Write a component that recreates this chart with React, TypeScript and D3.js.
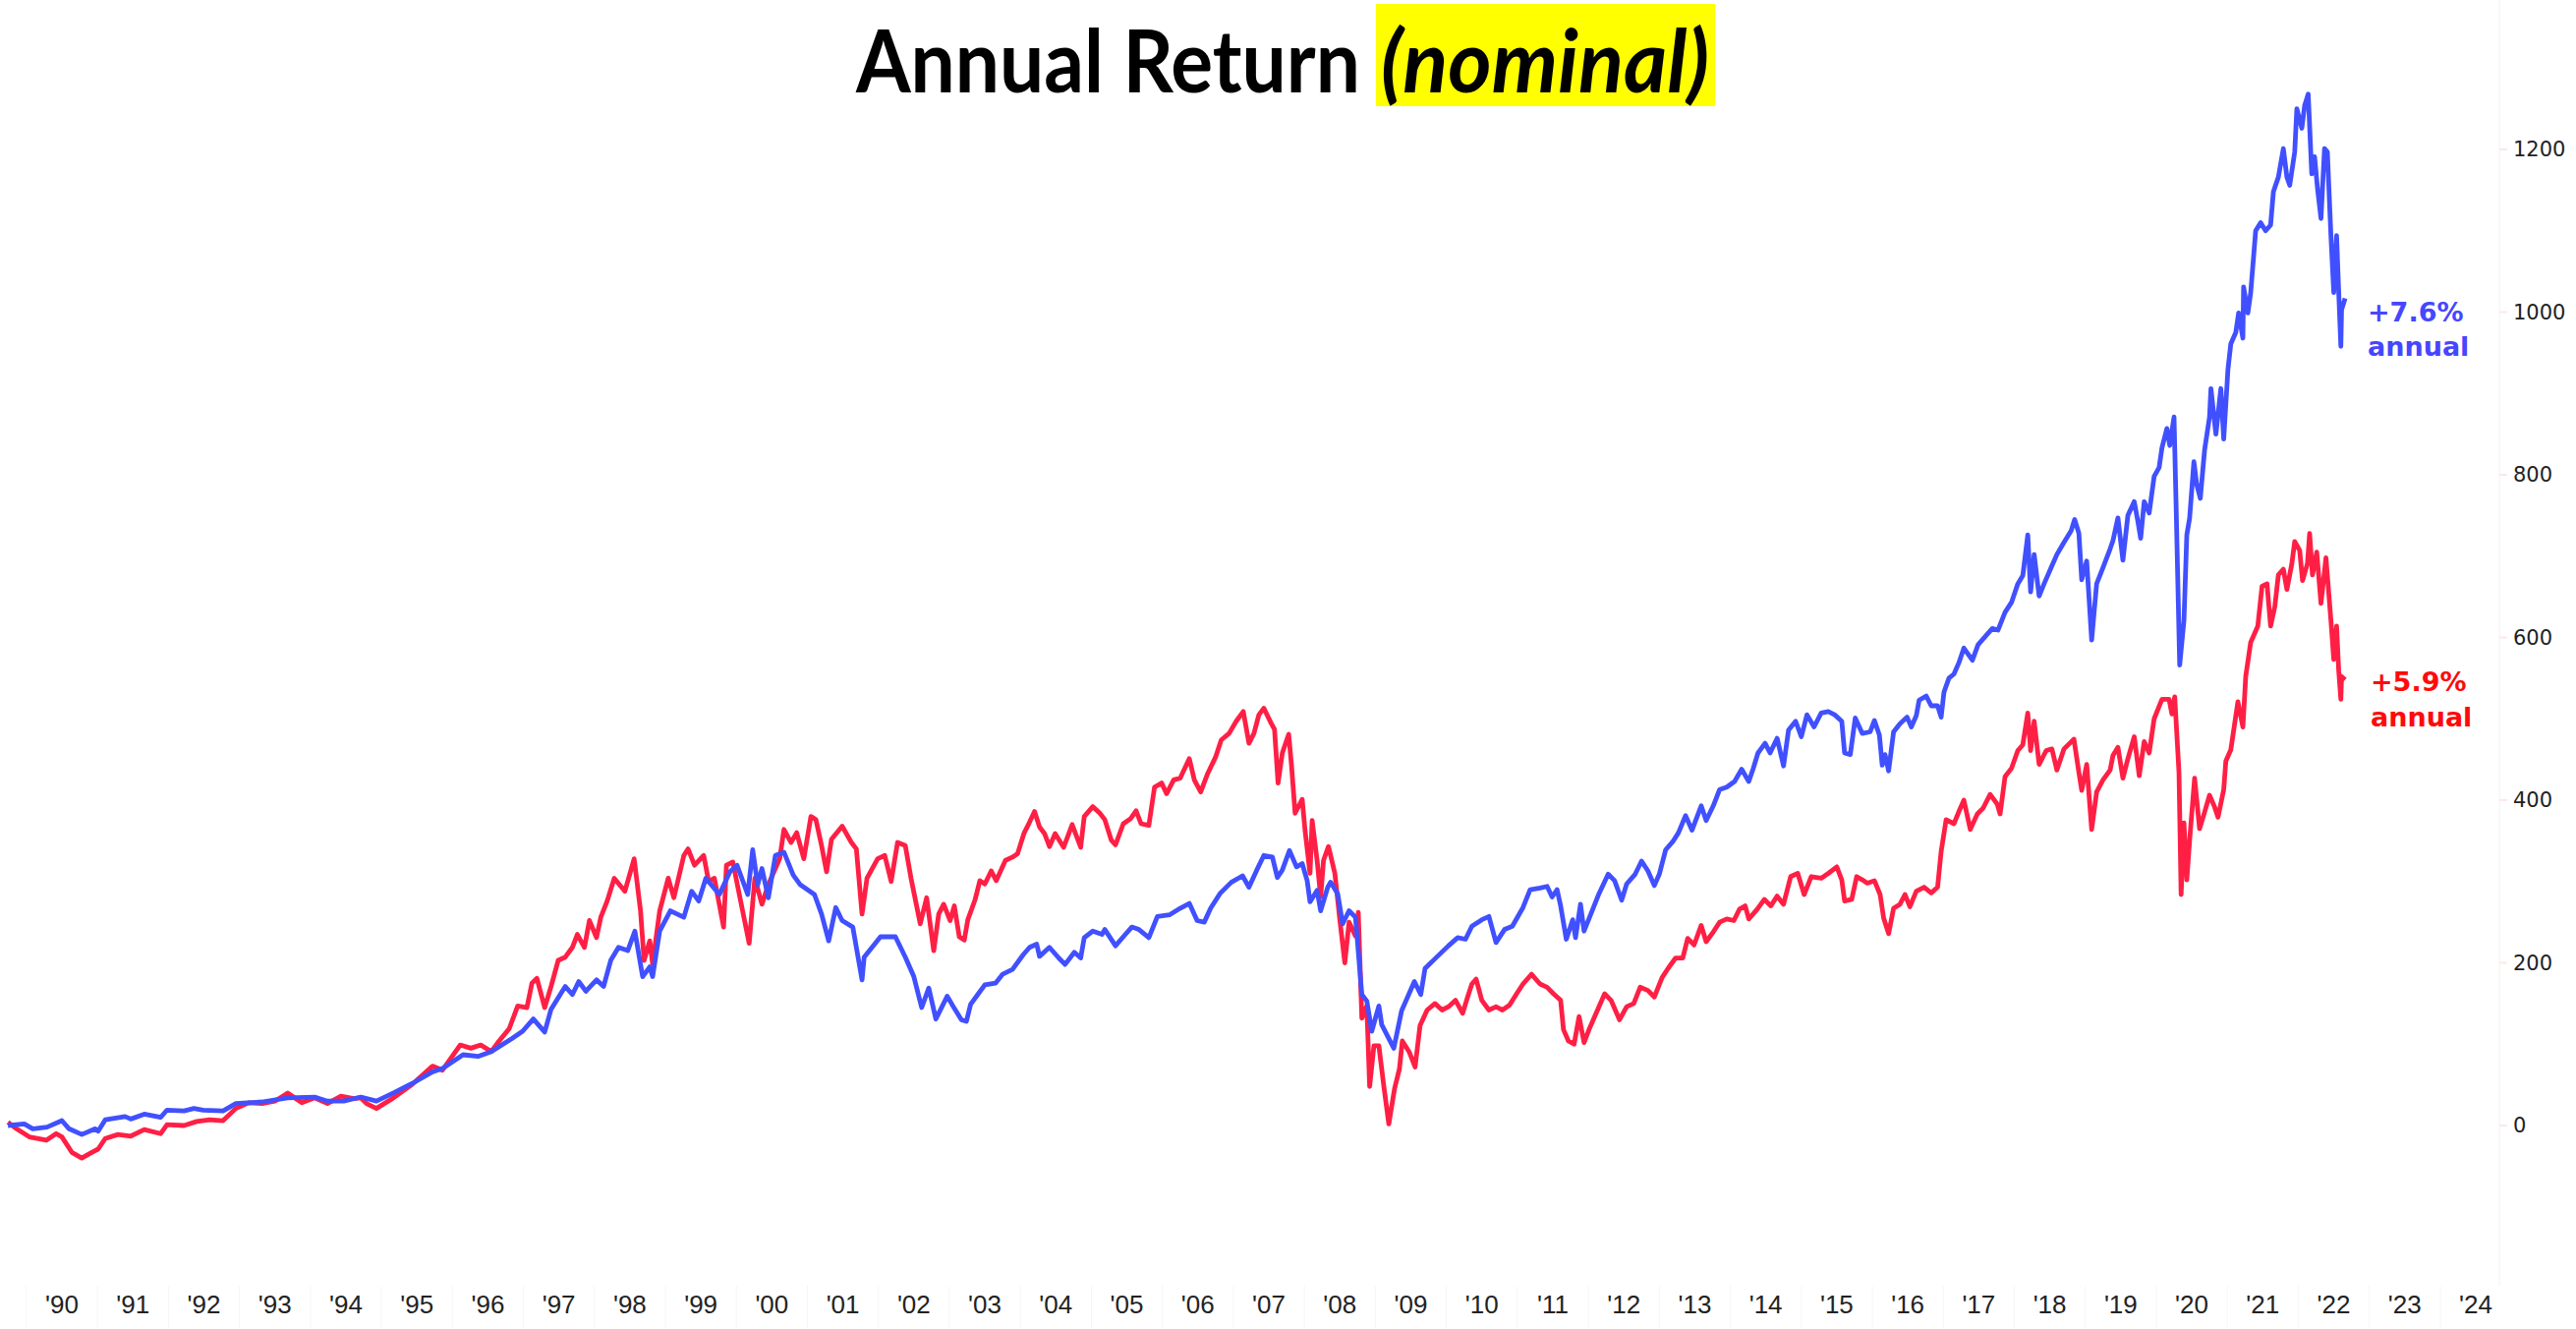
import React from 'react';
import * as d3 from 'd3';

// Cumulative return (%), blue series: [year, value]
const blueSeries: [number, number][] = [
  [1989.74, 0], [1989.97, 2], [1990.09, -4], [1990.29, -2], [1990.5, 6], [1990.6, -4], [1990.78, -11],
  [1990.97, -4], [1991.01, -7], [1991.11, 7], [1991.39, 11], [1991.47, 8], [1991.66, 14], [1991.89, 10],
  [1991.98, 19], [1992.22, 18], [1992.36, 21], [1992.49, 19], [1992.77, 18], [1992.95, 27], [1993.32, 29],
  [1993.68, 34], [1994.06, 35], [1994.24, 30], [1994.47, 30], [1994.71, 35], [1994.93, 30], [1995.17, 40],
  [1995.44, 52], [1995.72, 66], [1995.86, 70], [1996.15, 87], [1996.36, 85], [1996.55, 91], [1996.84, 107],
  [1996.99, 116], [1997.14, 131], [1997.3, 115], [1997.39, 143], [1997.59, 171], [1997.69, 161], [1997.78, 177],
  [1997.88, 165], [1998.03, 179], [1998.13, 171], [1998.23, 203], [1998.34, 219], [1998.47, 215], [1998.57, 239],
  [1998.68, 183], [1998.78, 195], [1998.82, 183], [1998.92, 239], [1999.07, 264], [1999.26, 256], [1999.37, 288],
  [1999.47, 276], [1999.57, 304], [1999.76, 284], [1999.91, 312], [2000.01, 320], [2000.16, 284], [2000.23, 339],
  [2000.3, 296], [2000.36, 316], [2000.45, 280], [2000.55, 332], [2000.67, 336], [2000.8, 308], [2000.9, 296],
  [2001.1, 284], [2001.2, 260], [2001.3, 227], [2001.4, 268], [2001.49, 252], [2001.64, 244], [2001.77, 179],
  [2001.8, 207], [2002.03, 232], [2002.24, 232], [2002.38, 207], [2002.5, 183], [2002.61, 145], [2002.71, 169],
  [2002.81, 131], [2002.97, 159], [2003.07, 144], [2003.17, 130], [2003.24, 128], [2003.3, 149], [2003.4, 161],
  [2003.5, 173], [2003.65, 175], [2003.75, 186], [2003.89, 192], [2004.04, 210], [2004.13, 219], [2004.23, 223],
  [2004.27, 208], [2004.41, 219], [2004.54, 206], [2004.63, 198], [2004.76, 213], [2004.85, 206], [2004.9, 231],
  [2005.02, 239], [2005.15, 235], [2005.19, 241], [2005.34, 221], [2005.48, 235], [2005.57, 244], [2005.67, 241],
  [2005.81, 231], [2005.93, 257], [2006.1, 259], [2006.25, 267], [2006.38, 273], [2006.49, 252], [2006.59, 250],
  [2006.68, 267], [2006.81, 285], [2006.97, 299], [2007.13, 307], [2007.22, 293], [2007.33, 314], [2007.43, 332],
  [2007.55, 330], [2007.62, 305], [2007.69, 314], [2007.79, 338], [2007.89, 318], [2007.97, 322], [2008.04, 301],
  [2008.08, 275], [2008.18, 289], [2008.23, 264], [2008.33, 293], [2008.37, 299], [2008.47, 285], [2008.54, 248],
  [2008.63, 264], [2008.72, 256], [2008.81, 161], [2008.88, 153], [2008.95, 116], [2009.05, 147], [2009.09, 124],
  [2009.26, 95], [2009.37, 141], [2009.47, 161], [2009.55, 177], [2009.64, 161], [2009.7, 193], [2009.84, 205],
  [2010.03, 221], [2010.16, 231], [2010.27, 229], [2010.36, 245], [2010.5, 253], [2010.6, 257], [2010.7, 225],
  [2010.82, 241], [2010.93, 245], [2011.08, 268], [2011.18, 290], [2011.32, 292], [2011.42, 294], [2011.49, 281],
  [2011.56, 290], [2011.61, 270], [2011.69, 229], [2011.78, 253], [2011.82, 231], [2011.89, 272], [2011.94, 239],
  [2012.04, 261], [2012.15, 285], [2012.28, 309], [2012.37, 301], [2012.47, 277], [2012.54, 297], [2012.66, 309],
  [2012.75, 325], [2012.84, 313], [2012.93, 295], [2013.0, 309], [2013.09, 339], [2013.19, 349], [2013.27, 360],
  [2013.37, 381], [2013.46, 363], [2013.59, 393], [2013.66, 375], [2013.76, 393], [2013.85, 413], [2013.95, 416],
  [2014.06, 423], [2014.16, 438], [2014.26, 423], [2014.32, 438], [2014.39, 458], [2014.49, 470], [2014.56, 458],
  [2014.66, 476], [2014.75, 442], [2014.82, 486], [2014.92, 497], [2015.0, 478], [2015.08, 505], [2015.18, 490],
  [2015.28, 507], [2015.38, 509], [2015.47, 505], [2015.57, 497], [2015.61, 458], [2015.69, 456], [2015.76, 501],
  [2015.86, 482], [2015.97, 484], [2016.03, 498], [2016.1, 480], [2016.14, 443], [2016.18, 456], [2016.23, 436],
  [2016.3, 484], [2016.39, 494], [2016.49, 502], [2016.55, 490], [2016.62, 504], [2016.66, 523], [2016.76, 528],
  [2016.83, 516], [2016.92, 516], [2016.97, 502], [2017.01, 533], [2017.08, 550], [2017.15, 555], [2017.22, 569],
  [2017.29, 587], [2017.41, 572], [2017.49, 591], [2017.59, 601], [2017.69, 611], [2017.77, 609], [2017.87, 631],
  [2017.96, 643], [2018.05, 666], [2018.12, 676], [2018.19, 726], [2018.23, 656], [2018.28, 702], [2018.35, 651],
  [2018.42, 666], [2018.52, 686], [2018.6, 702], [2018.7, 717], [2018.8, 731], [2018.85, 745], [2018.91, 728],
  [2018.95, 671], [2019.02, 694], [2019.09, 597], [2019.16, 666], [2019.25, 686], [2019.35, 709], [2019.39, 719],
  [2019.46, 747], [2019.53, 695], [2019.6, 750], [2019.69, 767], [2019.74, 743], [2019.78, 722], [2019.83, 767],
  [2019.9, 753], [2019.97, 798], [2020.04, 809], [2020.08, 833], [2020.15, 857], [2020.19, 836], [2020.25, 871],
  [2020.28, 760], [2020.33, 566], [2020.39, 621], [2020.43, 726], [2020.47, 747], [2020.53, 816], [2020.57, 788],
  [2020.62, 771], [2020.68, 830], [2020.75, 871], [2020.77, 906], [2020.84, 850], [2020.91, 906], [2020.95, 844],
  [2021.01, 930], [2021.05, 961], [2021.12, 975], [2021.16, 999], [2021.22, 968], [2021.23, 1031], [2021.29, 999],
  [2021.33, 1024], [2021.4, 1100], [2021.47, 1110], [2021.54, 1100], [2021.61, 1107], [2021.65, 1148], [2021.72, 1166],
  [2021.79, 1201], [2021.84, 1166], [2021.88, 1156], [2021.95, 1197], [2021.98, 1250], [2022.05, 1226], [2022.09, 1254],
  [2022.14, 1268], [2022.19, 1170], [2022.23, 1191], [2022.27, 1153], [2022.32, 1115], [2022.37, 1201], [2022.41, 1197],
  [2022.46, 1094], [2022.5, 1024], [2022.54, 1094], [2022.57, 1024], [2022.6, 958], [2022.61, 1003], [2022.66, 1017],
];

// Cumulative return (%), red series: [year, value]
const redSeries: [number, number][] = [
  [1989.74, 4], [1989.86, -4], [1990.04, -14], [1990.28, -18], [1990.42, -10], [1990.5, -14], [1990.64, -33],
  [1990.78, -40], [1990.92, -33], [1991.01, -29], [1991.11, -16], [1991.29, -11], [1991.47, -13], [1991.66, -5],
  [1991.89, -10], [1991.98, 1], [1992.22, 0], [1992.4, 5], [1992.58, 7], [1992.77, 6], [1992.95, 21], [1993.13, 28],
  [1993.32, 27], [1993.5, 30], [1993.68, 40], [1993.88, 28], [1994.06, 34], [1994.24, 27], [1994.43, 36],
  [1994.61, 33], [1994.71, 34], [1994.79, 27], [1994.93, 21], [1995.17, 34], [1995.44, 51], [1995.72, 73],
  [1995.86, 68], [1996.11, 99], [1996.26, 95], [1996.4, 99], [1996.55, 91], [1996.65, 103], [1996.8, 119],
  [1996.92, 147], [1997.05, 145], [1997.12, 175], [1997.19, 181], [1997.3, 145], [1997.39, 171], [1997.49, 203],
  [1997.59, 207], [1997.69, 219], [1997.76, 235], [1997.86, 219], [1997.93, 252], [1998.03, 231], [1998.09, 256],
  [1998.18, 276], [1998.28, 304], [1998.43, 288], [1998.56, 328], [1998.65, 264], [1998.7, 203], [1998.78, 227],
  [1998.82, 199], [1998.92, 264], [1999.04, 304], [1999.12, 280], [1999.26, 332], [1999.32, 340], [1999.41, 320],
  [1999.54, 332], [1999.61, 300], [1999.69, 304], [1999.82, 244], [1999.86, 320], [1999.95, 324], [2000.06, 276],
  [2000.18, 224], [2000.26, 304], [2000.36, 272], [2000.45, 296], [2000.61, 328], [2000.67, 364], [2000.77, 348],
  [2000.85, 360], [2000.95, 328], [2001.05, 380], [2001.12, 376], [2001.2, 344], [2001.27, 312], [2001.34, 352],
  [2001.49, 368], [2001.62, 348], [2001.69, 340], [2001.77, 260], [2001.84, 304], [2001.99, 328], [2002.09, 332],
  [2002.18, 300], [2002.27, 348], [2002.38, 344], [2002.46, 304], [2002.59, 248], [2002.68, 280], [2002.78, 215],
  [2002.85, 260], [2002.92, 272], [2003.01, 252], [2003.07, 270], [2003.14, 232], [2003.21, 228], [2003.26, 253],
  [2003.36, 277], [2003.43, 301], [2003.5, 297], [2003.59, 313], [2003.66, 301], [2003.79, 326], [2003.89, 330],
  [2003.96, 334], [2004.05, 359], [2004.13, 373], [2004.2, 386], [2004.27, 367], [2004.34, 359], [2004.41, 343],
  [2004.49, 359], [2004.61, 342], [2004.73, 370], [2004.85, 342], [2004.9, 380], [2005.02, 392], [2005.12, 384],
  [2005.19, 376], [2005.28, 351], [2005.34, 345], [2005.45, 371], [2005.55, 377], [2005.63, 387], [2005.7, 371],
  [2005.81, 369], [2005.89, 416], [2005.99, 421], [2006.06, 408], [2006.16, 425], [2006.25, 427], [2006.38, 451],
  [2006.45, 425], [2006.54, 410], [2006.64, 433], [2006.75, 453], [2006.83, 474], [2006.94, 482], [2007.04, 497],
  [2007.14, 509], [2007.22, 470], [2007.29, 482], [2007.36, 505], [2007.43, 513], [2007.53, 495], [2007.58, 487],
  [2007.63, 421], [2007.69, 458], [2007.78, 481], [2007.82, 442], [2007.87, 384], [2007.97, 401], [2008.01, 363],
  [2008.08, 310], [2008.11, 375], [2008.18, 326], [2008.23, 281], [2008.27, 326], [2008.34, 343], [2008.43, 310],
  [2008.5, 253], [2008.57, 200], [2008.63, 250], [2008.72, 233], [2008.76, 262], [2008.81, 132], [2008.88, 147],
  [2008.92, 48], [2008.98, 98], [2009.05, 98], [2009.12, 48], [2009.19, 2], [2009.27, 45], [2009.34, 70],
  [2009.38, 104], [2009.48, 90], [2009.56, 72], [2009.63, 123], [2009.73, 142], [2009.84, 150], [2009.94, 142],
  [2010.03, 146], [2010.13, 154], [2010.23, 138], [2010.3, 158], [2010.36, 174], [2010.42, 180], [2010.5, 154],
  [2010.6, 142], [2010.7, 146], [2010.79, 142], [2010.89, 148], [2010.99, 162], [2011.08, 174], [2011.2, 186],
  [2011.32, 174], [2011.42, 170], [2011.51, 162], [2011.61, 154], [2011.65, 118], [2011.72, 104], [2011.8, 100],
  [2011.87, 134], [2011.94, 102], [2012.01, 118], [2012.11, 138], [2012.23, 162], [2012.32, 154], [2012.44, 130],
  [2012.54, 146], [2012.64, 150], [2012.73, 170], [2012.84, 166], [2012.93, 158], [2013.04, 182], [2013.13, 194],
  [2013.23, 206], [2013.33, 206], [2013.4, 230], [2013.49, 222], [2013.59, 246], [2013.66, 226], [2013.76, 238],
  [2013.85, 250], [2013.95, 254], [2014.05, 252], [2014.13, 266], [2014.21, 270], [2014.26, 254], [2014.38, 266],
  [2014.48, 278], [2014.57, 270], [2014.66, 282], [2014.75, 272], [2014.85, 306], [2014.95, 310], [2015.04, 284],
  [2015.14, 306], [2015.28, 304], [2015.38, 310], [2015.5, 318], [2015.57, 302], [2015.61, 276], [2015.71, 278],
  [2015.78, 306], [2015.86, 302], [2015.93, 298], [2016.03, 301], [2016.11, 284], [2016.16, 255], [2016.23, 236],
  [2016.3, 267], [2016.39, 272], [2016.46, 284], [2016.53, 269], [2016.62, 288], [2016.73, 293], [2016.83, 286],
  [2016.92, 293], [2016.97, 337], [2017.04, 376], [2017.15, 371], [2017.22, 386], [2017.29, 400], [2017.38, 364],
  [2017.48, 383], [2017.56, 390], [2017.66, 407], [2017.76, 395], [2017.8, 383], [2017.87, 429], [2017.96, 439],
  [2018.05, 461], [2018.12, 468], [2018.19, 507], [2018.23, 461], [2018.28, 497], [2018.35, 444], [2018.45, 461],
  [2018.53, 463], [2018.6, 437], [2018.7, 463], [2018.84, 475], [2018.91, 434], [2018.95, 412], [2019.02, 444],
  [2019.09, 364], [2019.16, 410], [2019.25, 425], [2019.35, 437], [2019.39, 455], [2019.46, 465], [2019.53, 427],
  [2019.6, 451], [2019.69, 478], [2019.76, 430], [2019.83, 472], [2019.9, 458], [2019.97, 500], [2020.08, 524],
  [2020.18, 524], [2020.22, 506], [2020.26, 527], [2020.32, 434], [2020.35, 284], [2020.39, 372], [2020.43, 302],
  [2020.47, 351], [2020.54, 427], [2020.61, 365], [2020.68, 385], [2020.75, 406], [2020.82, 392], [2020.87, 379],
  [2020.95, 413], [2020.98, 448], [2021.05, 462], [2021.15, 521], [2021.22, 490], [2021.26, 552], [2021.33, 594],
  [2021.43, 614], [2021.49, 663], [2021.56, 666], [2021.61, 614], [2021.67, 638], [2021.72, 677], [2021.79, 684],
  [2021.84, 659], [2021.91, 691], [2021.95, 718], [2022.02, 707], [2022.06, 670], [2022.13, 691], [2022.16, 728],
  [2022.2, 677], [2022.26, 705], [2022.32, 642], [2022.39, 698], [2022.46, 621], [2022.5, 573], [2022.54, 614],
  [2022.57, 559], [2022.6, 524], [2022.61, 552], [2022.66, 548],
];

const years = d3.range(1990, 2025);
const valueTicks = [0, 200, 400, 600, 800, 1000, 1200];

const BLUE = '#4150ff';
const RED = '#ff1f45';

export default function App() {
  const width = 2621;
  const height = 1352;

  // Scales: labels sit in the middle of each year band
  const x = d3.scaleLinear().domain([1990.5, 2024.5]).range([63, 2519]);
  const y = d3.scaleLinear().domain([0, 1200]).range([1145, 152]);

  const line = d3
    .line<[number, number]>()
    .x(d => x(d[0]))
    .y(d => y(d[1]));

  const axisX = 2543;

  return (
    <svg
      width={width}
      height={height}
      style={{ position: 'absolute', left: 0, top: 0, background: '#fff' }}
    >
      {/* faint year separators under the axis */}
      <g>
        {years.map(yr => (
          <line
            key={yr}
            x1={x(yr)}
            x2={x(yr)}
            y1={1308}
            y2={height}
            stroke="#f6f6f6"
            strokeWidth={1}
          />
        ))}
      </g>

      {/* right axis */}
      <line x1={axisX} x2={axisX} y1={0} y2={1308} stroke="#fbf0f0" strokeWidth={1} />
      <g>
        {valueTicks.map(v => (
          <g key={v}>
            <line x1={axisX} x2={axisX + 8} y1={y(v)} y2={y(v)} stroke="#fbe9e9" strokeWidth={2} />
            <text
              x={2557}
              y={y(v) + 7}
              fontFamily="DejaVu Sans, Verdana, sans-serif"
              fontSize={21}
              fill="#222"
            >
              {v}
            </text>
          </g>
        ))}
      </g>

      {/* x labels */}
      <g>
        {years.map(yr => (
          <text
            key={yr}
            x={x(yr + 0.5)}
            y={1336}
            textAnchor="middle"
            fontFamily="Liberation Sans Narrow, Arial Narrow, sans-serif"
            fontSize={26}
            fill="#222"
          >
            {"'" + String(yr).slice(2)}
          </text>
        ))}
      </g>

      {/* series */}
      <path d={line(redSeries) || ''} fill="none" stroke={RED} strokeWidth={4.8} strokeLinejoin="round" />
      <path d={line(blueSeries) || ''} fill="none" stroke={BLUE} strokeWidth={4.8} strokeLinejoin="round" />

      {/* end annotations */}
      <g fontFamily="DejaVu Sans, Verdana, sans-serif" fontWeight="bold" fontSize={27}>
        <text x={2409} y={327} fill="#4646ff">+7.6%</text>
        <text x={2409} y={362} fill="#4646ff">annual</text>
        <text x={2412} y={703} fill="#ff0a0a">+5.9%</text>
        <text x={2412} y={739} fill="#ff0a0a">annual</text>
      </g>

      {/* title */}
      <rect x={1400} y={4} width={345} height={104} fill="#ffff00" />
      <text
        x={871}
        y={94}
        fontFamily="Lato, Open Sans, sans-serif"
        fontWeight="bold"
        fontSize={88}
        textLength={513}
        lengthAdjust="spacingAndGlyphs"
        fill="#000"
      >
        Annual Return
      </text>
      <text
        x={1405}
        y={94}
        fontFamily="Lato, Open Sans, sans-serif"
        fontWeight="bold"
        fontStyle="italic"
        fontSize={88}
        textLength={334}
        lengthAdjust="spacingAndGlyphs"
        fill="#000"
      >
        (nominal)
      </text>
    </svg>
  );
}
